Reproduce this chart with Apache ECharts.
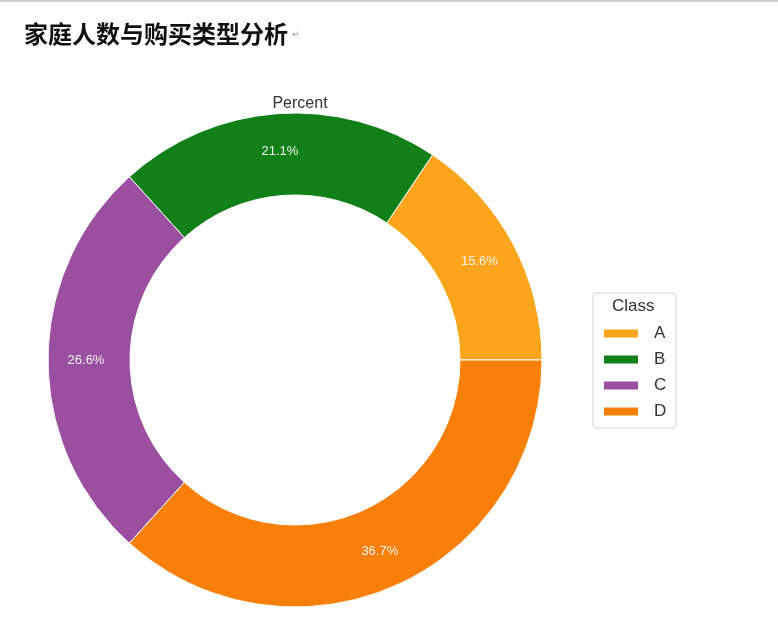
<!DOCTYPE html>
<html>
<head>
<meta charset="utf-8">
<script src="https://cdn.jsdelivr.net/npm/echarts@6/dist/echarts.min.js"></script>
<style>
html,body{margin:0;padding:0;background:#fff;}
#main{width:778px;height:622px;}
</style>
</head>
<body>
<div id="main"></div>
<script>
var categories = ['A', 'B', 'C', 'D'];
var percents = [15.6, 21.1, 26.6, 36.7];
var colors = ['#FBA51D', '#118019', '#9A4FA0', '#F88008'];
var pageTitle = '家庭人数与购买类型分析';
var chartTitle = 'Percent';
var legendTitle = 'Class';

var chart = echarts.init(document.getElementById('main'));
var data = categories.map(function (c, i) {
  return { name: c, value: percents[i], itemStyle: { color: colors[i] } };
});
chart.setOption({
  backgroundColor: '#fff',
  animation: false,
  title: [{
    text: pageTitle,
    left: 19, top: 17,
    textStyle: { fontFamily: 'Noto Sans CJK SC', fontSize: 24, fontWeight: 'bold', color: '#111' }
  }, {
    text: chartTitle,
    left: 295, top: 91, textAlign: 'center',
    textStyle: { fontFamily: 'Liberation Sans', fontSize: 16, fontWeight: 'normal', color: '#333' }
  }],
  legend: {
    orient: 'vertical',
    left: 593, top: 293,
    data: categories,
    icon: 'rect',
    itemWidth: 36, itemHeight: 10, itemGap: 9,
    padding: [32, 8, 8, 9],
    borderColor: '#d4d4d4', borderWidth: 1, borderRadius: 3,
    backgroundColor: '#fdfdfd',
    textStyle: { fontFamily: 'Liberation Sans', fontSize: 17, lineHeight: 17, color: '#333', width: 14, padding: [0, 0, 0, 10] }
  },
  graphic: [{
    type: 'text', left: 612, top: 298, z: 100, zlevel: 1,
    style: { text: legendTitle, fontFamily: 'Liberation Sans', fontSize: 17, fill: '#333' }
  }, {
    type: 'text', left: 292, top: 30,
    style: { text: '↵', fontFamily: 'DejaVu Sans', fontSize: 9, fill: '#999' }
  }, {
    type: 'rect', left: 0, top: 0, shape: { width: 778, height: 2 }, style: { fill: '#d0d0d0' }
  }],
  series: [{
    type: 'pie',
    center: [295, 360],
    radius: [165, 247],
    startAngle: 0,
    clockwise: false,
    data: data,
    itemStyle: { borderColor: '#fff', borderWidth: 1 },
    label: {
      show: true, position: 'inside',
      formatter: function (p) { return p.value.toFixed(1) + '%'; },
      fontFamily: 'Liberation Sans', fontSize: 13, color: '#f4f0ea'
    },
    labelLine: { show: false },
    emphasis: { disabled: true }
  }]
});
</script>
</body>
</html>
